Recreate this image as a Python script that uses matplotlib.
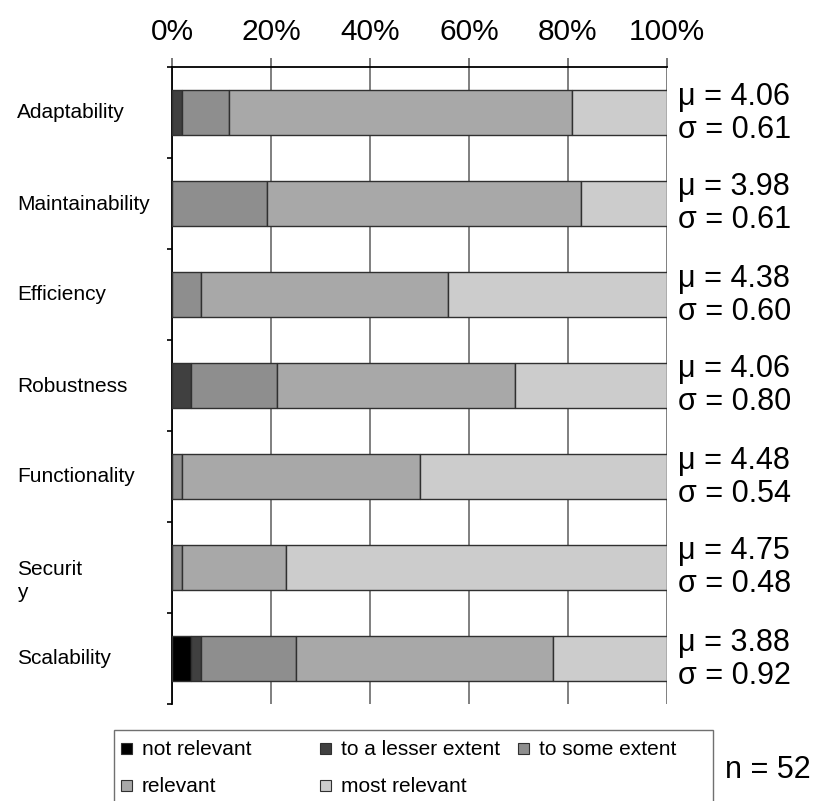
import matplotlib
matplotlib.use("Agg")
import matplotlib.pyplot as plt
import numpy as np
from matplotlib.patches import Rectangle
from matplotlib.transforms import blended_transform_factory

plt.rcParams['font.family'] = ['Liberation Sans', 'DejaVu Sans']

categories = ["Adaptability", "Maintainability", "Efficiency", "Robustness",
              "Functionality", "Securit\ny", "Scalability"]
n_total = 52
# counts per response level (out of 52)
not_relevant   = [0, 0, 0, 0, 0, 0, 2]
lesser_extent  = [1, 0, 0, 2, 0, 0, 1]
some_extent    = [5, 10, 3, 9, 1, 1, 10]
relevant       = [36, 33, 26, 25, 25, 11, 27]
most_relevant  = [10, 9, 23, 16, 26, 40, 12]
means = ["4.06", "3.98", "4.38", "4.06", "4.48", "4.75", "3.88"]
sds   = ["0.61", "0.61", "0.60", "0.80", "0.54", "0.48", "0.92"]
series_labels = ["not relevant", "to a lesser extent", "to some extent",
                 "relevant", "most relevant"]
series_colors = ["#000000", "#404040", "#8e8e8e", "#a8a8a8", "#cccccc"]
xtick_labels = ["0%", "20%", "40%", "60%", "80%", "100%"]

W, H = 819, 801
fig = plt.figure(figsize=(W / 100, H / 100), dpi=100)
ax = fig.add_axes([172 / W, 1 - 704 / H, (667 - 172) / W, (704 - 67) / H])
band_px = (704 - 67) / len(categories)

data = np.array([not_relevant, lesser_extent, some_extent, relevant, most_relevant], dtype=float)
pct = data / n_total * 100
y = np.arange(len(categories))
left = np.zeros(len(categories))
for vals, lab, col in zip(pct, series_labels, series_colors):
    ax.barh(y, vals, left=left, height=0.5, color=col, edgecolor="#303030",
            linewidth=1.0, label=lab, zorder=3)
    left += vals

ax.set_xlim(0, 100)
ax.set_ylim(len(categories) - 0.5, -0.5)
ax.xaxis.tick_top()
ax.set_xticks([0, 20, 40, 60, 80, 100])
ax.set_xticklabels(xtick_labels, fontsize=21.5)
ax.tick_params(axis='x', direction='out', length=6.5, width=1.2, color="#606060", pad=8.5)
ax.set_yticks(np.arange(-0.5, len(categories), 1.0))
ax.set_yticklabels([])
ax.tick_params(axis='y', direction='out', length=3.8, width=1.2, color="black")
ax.grid(axis='x', color="#6a6a6a", linewidth=1.2, zorder=0)
ax.set_axisbelow(True)
for s in ["bottom", "right"]:
    ax.spines[s].set_visible(False)
ax.spines["top"].set_linewidth(1.3)
ax.spines["left"].set_linewidth(1.3)

trans = blended_transform_factory(fig.transFigure, ax.transData)
for i, cat in enumerate(categories):
    lines = cat.split("\n")
    base = i + (6 if len(lines) == 1 else 7.5) / band_px
    for k, ln in enumerate(lines):
        ax.text(17 / W, base + k * 23 / band_px, ln, transform=trans,
                ha='left', va='baseline', fontsize=15)
    ax.text(678 / W, i - 8 / band_px, "\u03bc = " + means[i], transform=trans,
            ha='left', va='baseline', fontsize=22)
    ax.text(678 / W, i + 25 / band_px, "\u03c3 = " + sds[i], transform=trans,
            ha='left', va='baseline', fontsize=22)

# legend box
fig.patches.append(Rectangle((114 / W, 1 - 806 / H), (713 - 114) / W, (806 - 730) / H,
                             transform=fig.transFigure, facecolor="white",
                             edgecolor="#707070", linewidth=1.0))
leg_pos = [(121, 755), (320, 755), (518, 755), (121, 792), (320, 792)]
for (px, py), lab, col in zip(leg_pos, series_labels, series_colors):
    fig.patches.append(Rectangle((px / W, 1 - (py - 1) / H), 11 / W, 11 / H,
                                 transform=fig.transFigure, facecolor=col,
                                 edgecolor="#303030", linewidth=0.8))
    fig.text((px + 21) / W, 1 - py / H, lab, ha='left', va='baseline', fontsize=15)

fig.text(725 / W, 1 - 778 / H, "n = %d" % n_total, ha='left', va='baseline', fontsize=22)

fig.savefig("out.png", dpi=100)
